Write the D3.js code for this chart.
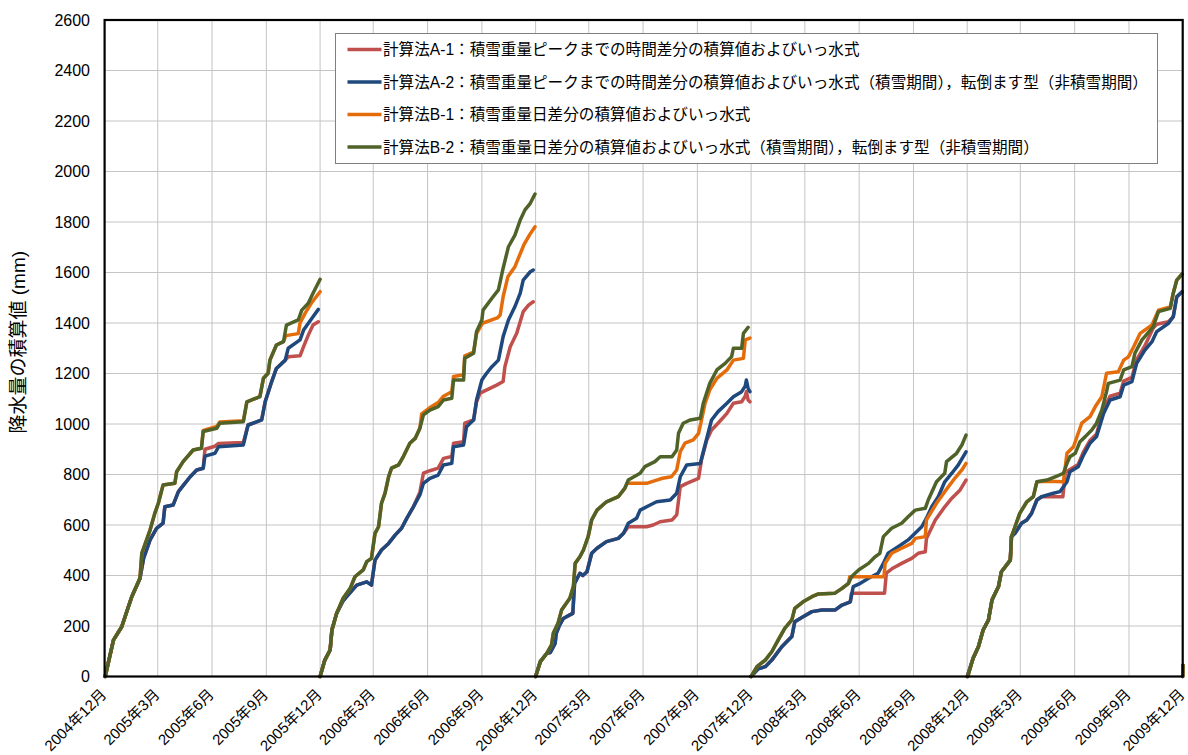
<!DOCTYPE html>
<html>
<head>
<meta charset="utf-8">
<script src="https://cdn.jsdelivr.net/npm/d3@7"></script>
<style>
  body { margin: 0; background: #fff; }
  text { font-family: "Liberation Sans", "Noto Sans CJK JP", sans-serif; }
</style>
</head>
<body>
<script>
// each season starts on 1 Dec, points are [days since season start, cumulative mm]
var seasonStart = ["2004-12-01", "2005-12-01", "2006-12-01", "2007-12-01", "2008-12-01", "2009-12-01"];

var names = [
    "計算法A-1：積雪重量ピークまでの時間差分の積算値およびいっ水式",
    "計算法A-2：積雪重量ピークまでの時間差分の積算値およびいっ水式（積雪期間），転倒ます型（非積雪期間）",
    "計算法B-1：積雪重量日差分の積算値およびいっ水式",
    "計算法B-2：積雪重量日差分の積算値およびいっ水式（積雪期間），転倒ます型（非積雪期間）"
];
var colors = ["#C0504D", "#1F497D", "#E46C0A", "#4F6228"];

var yTicks = [0, 200, 400, 600, 800, 1000, 1200, 1400, 1600, 1800, 2000, 2200, 2400, 2600];

var seriesA1 = [
    [[1,0],[15,144],[29,197],[46,316],[60,389],[66,468],[77,541],[88,587],[99,607],[102,672],[116,679],[125,732],[136,765],[145,791],[156,818],[167,825],[170,900],[187,912],[193,923],[235,927],[243,996],[266,1016],[272,1088],[283,1168],[291,1220],[306,1253],[311,1266],[331,1270],[337,1306],[345,1352],[353,1392],[362,1405]],
    [[0,0],[8,65],[17,105],[20,184],[28,250],[39,300],[45,316],[62,362],[79,375],[87,362],[93,461],[104,501],[116,527],[127,560],[138,587],[147,627],[158,672],[169,730],[175,805],[186,815],[200,825],[209,864],[223,871],[226,924],[243,930],[245,1003],[260,1016],[265,1088],[271,1122],[299,1154],[310,1168],[313,1227],[322,1306],[333,1359],[344,1445],[353,1471],[361,1484]],
    [[0,0],[8,59],[19,92],[25,95],[33,131],[35,171],[40,200],[47,230],[58,244],[63,250],[66,369],[75,409],[80,400],[87,415],[95,488],[104,508],[120,534],[140,547],[149,567],[157,593],[188,593],[199,600],[211,613],[231,620],[239,640],[245,752],[256,765],[276,785],[281,858],[290,937],[298,976],[309,1003],[324,1042],[335,1082],[349,1088],[355,1110],[357,1128],[360,1095],[363,1088]],
    [[0,0],[12,30],[24,39],[35,65],[52,118],[69,158],[74,217],[88,237],[103,257],[120,263],[142,263],[154,283],[168,296],[170,330],[226,330],[229,409],[240,429],[255,448],[272,468],[283,488],[295,494],[297,547],[312,620],[328,672],[340,706],[354,739],[364,778]],
    [[0,0],[10,72],[19,118],[27,184],[36,224],[42,303],[53,356],[58,415],[73,461],[75,554],[81,567],[92,607],[101,620],[109,646],[118,699],[126,712],[162,712],[166,805],[174,820],[188,840],[197,890],[208,935],[219,960],[230,1055],[242,1110],[259,1122],[265,1170],[279,1185],[287,1255],[301,1310],[315,1380],[321,1395],[341,1405],[349,1425],[355,1504],[364,1524]],
    [[0,0],[0.4,45]]
];

var seriesA2 = [
    [[1,0],[15,144],[29,197],[46,316],[60,389],[66,468],[77,541],[88,587],[99,607],[102,672],[116,679],[125,732],[136,765],[145,791],[156,818],[167,825],[170,873],[187,884],[193,910],[235,917],[243,996],[266,1016],[272,1088],[283,1168],[291,1220],[306,1253],[311,1300],[331,1333],[337,1372],[353,1425],[362,1454]],
    [[0,0],[8,65],[17,105],[20,184],[28,250],[39,300],[45,316],[62,362],[79,375],[87,362],[93,461],[104,501],[116,527],[127,560],[138,587],[147,627],[158,672],[169,719],[175,765],[186,785],[200,798],[209,838],[223,844],[226,910],[243,917],[248,989],[260,1016],[265,1095],[274,1174],[282,1201],[291,1227],[302,1253],[310,1346],[319,1412],[330,1465],[339,1518],[344,1570],[356,1603],[361,1610]],
    [[0,0],[8,59],[19,92],[25,95],[33,131],[35,171],[40,200],[47,230],[58,244],[63,250],[66,369],[75,409],[80,400],[87,415],[95,488],[104,508],[120,534],[140,547],[149,567],[157,607],[171,627],[177,659],[194,679],[205,692],[228,699],[239,726],[245,791],[256,838],[279,844],[284,890],[298,1016],[309,1049],[324,1082],[335,1108],[349,1128],[355,1150],[357,1174],[360,1140],[363,1128]],
    [[0,0],[12,30],[24,39],[35,65],[52,118],[69,158],[74,217],[88,237],[103,257],[120,263],[142,263],[154,283],[168,296],[173,356],[185,369],[199,389],[215,409],[224,448],[232,488],[249,514],[266,541],[289,593],[297,627],[306,672],[317,712],[328,771],[340,805],[351,838],[364,890]],
    [[0,0],[10,72],[19,118],[27,184],[36,224],[42,303],[53,356],[58,415],[73,461],[75,554],[81,567],[92,607],[101,620],[109,646],[118,699],[126,712],[146,726],[157,732],[169,771],[174,811],[188,831],[197,877],[208,924],[219,950],[231,1042],[242,1095],[259,1108],[265,1154],[279,1168],[287,1240],[301,1293],[313,1326],[321,1366],[341,1399],[349,1425],[355,1504],[364,1524]],
    [[0,0],[0.4,45]]
];

var seriesB1 = [
    [[1,0],[15,144],[29,197],[46,316],[60,389],[63,488],[77,580],[85,646],[91,686],[99,758],[119,765],[122,811],[133,851],[150,897],[164,904],[167,975],[190,990],[195,1008],[235,1013],[241,1088],[263,1108],[269,1181],[277,1201],[280,1253],[291,1313],[303,1326],[307,1350],[328,1358],[331,1400],[340,1440],[350,1478],[365,1524]],
    [[0,0],[8,65],[17,105],[20,184],[28,250],[39,310],[51,349],[59,395],[73,422],[79,455],[87,468],[93,567],[99,593],[104,686],[110,726],[116,791],[121,825],[133,838],[141,871],[152,924],[161,943],[169,983],[172,1040],[186,1065],[200,1085],[209,1110],[223,1128],[226,1188],[243,1195],[245,1270],[260,1285],[265,1359],[275,1399],[300,1420],[305,1432],[310,1504],[318,1583],[330,1623],[345,1709],[355,1750],[364,1781]],
    [[0,0],[8,59],[19,92],[27,125],[30,171],[38,211],[44,263],[58,310],[64,356],[67,448],[75,474],[81,501],[89,554],[95,620],[104,659],[120,692],[140,712],[151,745],[155,765],[188,765],[205,778],[215,785],[230,791],[239,818],[245,890],[253,924],[267,937],[276,963],[281,1016],[287,1082],[295,1135],[307,1181],[324,1214],[335,1253],[352,1260],[355,1333],[363,1340]],
    [[0,0],[10,39],[24,65],[35,98],[46,145],[57,191],[69,224],[74,270],[88,296],[103,316],[114,327],[142,330],[154,349],[165,369],[167,395],[225,395],[227,448],[238,488],[255,508],[272,527],[278,547],[295,554],[297,620],[314,686],[328,732],[345,785],[357,818],[364,844]],
    [[1,0],[10,72],[19,118],[27,184],[36,224],[42,303],[53,356],[58,415],[73,461],[75,554],[81,593],[89,646],[101,692],[112,712],[118,771],[135,773],[163,771],[169,884],[180,910],[194,1003],[208,1029],[217,1069],[228,1108],[236,1201],[256,1207],[265,1253],[273,1266],[282,1306],[293,1359],[313,1392],[324,1451],[344,1464],[349,1518],[355,1570],[364,1594]],
    [[0,0],[0.4,45]]
];

var seriesB2 = [
    [[1,0],[15,144],[29,197],[46,316],[60,389],[63,488],[77,580],[85,646],[91,686],[99,758],[119,765],[122,811],[133,851],[150,897],[164,904],[167,970],[190,983],[195,1003],[235,1009],[241,1088],[263,1108],[269,1181],[277,1201],[280,1253],[291,1313],[303,1326],[308,1392],[328,1412],[334,1451],[345,1478],[353,1518],[365,1573]],
    [[0,0],[8,65],[17,105],[20,184],[28,250],[39,310],[51,349],[59,395],[73,422],[79,455],[87,468],[93,567],[99,593],[104,686],[110,726],[116,791],[121,825],[133,838],[141,871],[152,924],[161,943],[169,983],[175,1036],[186,1055],[200,1069],[209,1095],[223,1102],[226,1174],[243,1174],[245,1260],[260,1280],[265,1366],[274,1412],[276,1451],[291,1498],[302,1531],[310,1617],[319,1702],[330,1748],[339,1808],[347,1848],[356,1874],[364,1911]],
    [[0,0],[8,59],[19,92],[27,125],[30,171],[38,211],[44,263],[58,310],[64,356],[67,448],[75,474],[81,501],[89,554],[95,620],[104,659],[120,692],[140,712],[151,745],[157,778],[177,805],[185,831],[202,851],[211,870],[231,870],[239,897],[242,963],[250,1003],[262,1016],[279,1023],[284,1082],[295,1161],[307,1214],[321,1240],[332,1267],[335,1300],[349,1300],[352,1359],[360,1383]],
    [[0,0],[10,39],[24,65],[35,98],[46,145],[57,191],[69,224],[74,270],[88,296],[103,316],[114,327],[142,330],[154,349],[165,369],[170,395],[182,422],[199,448],[210,474],[218,488],[224,554],[238,587],[255,607],[266,633],[278,659],[295,666],[300,699],[314,771],[328,805],[331,851],[348,884],[357,917],[364,956]],
    [[1,0],[10,72],[19,118],[27,184],[36,224],[42,303],[53,356],[58,415],[73,461],[75,554],[81,593],[89,646],[101,692],[112,712],[118,771],[135,778],[152,794],[163,805],[169,844],[174,870],[183,884],[191,930],[200,950],[211,976],[219,1003],[228,1055],[236,1128],[239,1161],[259,1174],[265,1214],[279,1227],[284,1280],[296,1333],[315,1385],[324,1445],[344,1458],[349,1518],[355,1570],[364,1594]],
    [[0,0],[0.4,45]]
];

var allSeries = [seriesA1, seriesA2, seriesB1, seriesB2];

var width = 1188, height = 755;
var plotL = 104.6, plotR = 1182.7, plotT = 20, plotB = 676.5;

var svg = d3.select("body")
    .append("svg")
    .attr("width", width)
    .attr("height", height);

var parse = d3.utcParse("%Y-%m-%d");
var x = d3.scaleUtc()
    .domain([parse("2004-12-01"), parse("2009-12-01")])
    .range([plotL, plotR]);
var y = d3.scaleLinear()
    .domain([0, 2600])
    .range([plotB, plotT]);

var xTicks = d3.utcMonth.range(parse("2004-12-01"), parse("2009-12-02"), 3);

// grid
svg.append("g")
    .selectAll("line")
    .data(yTicks)
    .enter().append("line")
    .attr("x1", plotL).attr("x2", plotR)
    .attr("y1", d => y(d)).attr("y2", d => y(d))
    .attr("stroke", "#c4c4c4")
    .attr("stroke-width", 1);
svg.append("g")
    .selectAll("line")
    .data(xTicks)
    .enter().append("line")
    .attr("x1", d => x(d)).attr("x2", d => x(d))
    .attr("y1", plotT).attr("y2", plotB)
    .attr("stroke", "#c4c4c4")
    .attr("stroke-width", 1);

// y labels
svg.append("g")
    .selectAll("text")
    .data(yTicks)
    .enter().append("text")
    .attr("x", 90)
    .attr("y", d => y(d))
    .attr("dy", "0.36em")
    .attr("text-anchor", "end")
    .attr("font-size", "16px")
    .attr("fill", "#000")
    .text(d => d);

// x labels, rotated
var fmt = d3.utcFormat("%Y年%-m月");
svg.append("g")
    .selectAll("text")
    .data(xTicks)
    .enter().append("text")
    .attr("transform", d => `translate(${x(d) - 1},${plotB + 15}) rotate(-45)`)
    .attr("text-anchor", "end")
    .attr("dy", "0.36em")
    .attr("font-size", "15px")
    .attr("fill", "#000")
    .text(d => fmt(d));

// axis title
svg.append("text")
    .attr("transform", `translate(25,${(plotT + plotB) / 2 - 6}) rotate(-90)`)
    .attr("text-anchor", "middle")
    .attr("font-size", "19px")
    .attr("fill", "#000")
    .text("降水量の積算値 (mm)");

// the lines, one path per season so the drop back to 0 isn't drawn
var line = d3.line()
    .x(d => d[0])
    .y(d => d[1]);

allSeries.forEach((s, i) => {
    var g = svg.append("g");
    s.forEach((pts, k) => {
        var t0 = parse(seasonStart[k]).getTime();
        var xy = pts.map(p => [x(new Date(t0 + p[0] * 86400000)), y(p[1])]);
        g.append("path")
            .attr("d", line(xy))
            .attr("fill", "none")
            .attr("stroke", colors[i])
            .attr("stroke-width", 3.5)
            .attr("stroke-linejoin", "round")
            .attr("stroke-linecap", "round");
    });
});

// plot frame
svg.append("rect")
    .attr("x", plotL).attr("y", plotT)
    .attr("width", plotR - plotL).attr("height", plotB - plotT)
    .attr("fill", "none")
    .attr("stroke", "#000")
    .attr("stroke-width", 2.2);

// legend
var lg = svg.append("g");
lg.append("rect")
    .attr("x", 335.5).attr("y", 33.5)
    .attr("width", 822).attr("height", 130)
    .attr("fill", "#fff")
    .attr("stroke", "#7f7f7f")
    .attr("stroke-width", 1);
names.forEach((n, i) => {
    var ly = 49.5 + i * 32.5;
    lg.append("line")
        .attr("x1", 347.5).attr("x2", 381.5)
        .attr("y1", ly).attr("y2", ly)
        .attr("stroke", colors[i])
        .attr("stroke-width", 3.5);
    lg.append("text")
        .attr("x", 383)
        .attr("y", ly)
        .attr("dy", "0.36em")
        .attr("font-size", "15.6px")
        .attr("fill", "#000")
        .text(n);
});
</script>
</body>
</html>
